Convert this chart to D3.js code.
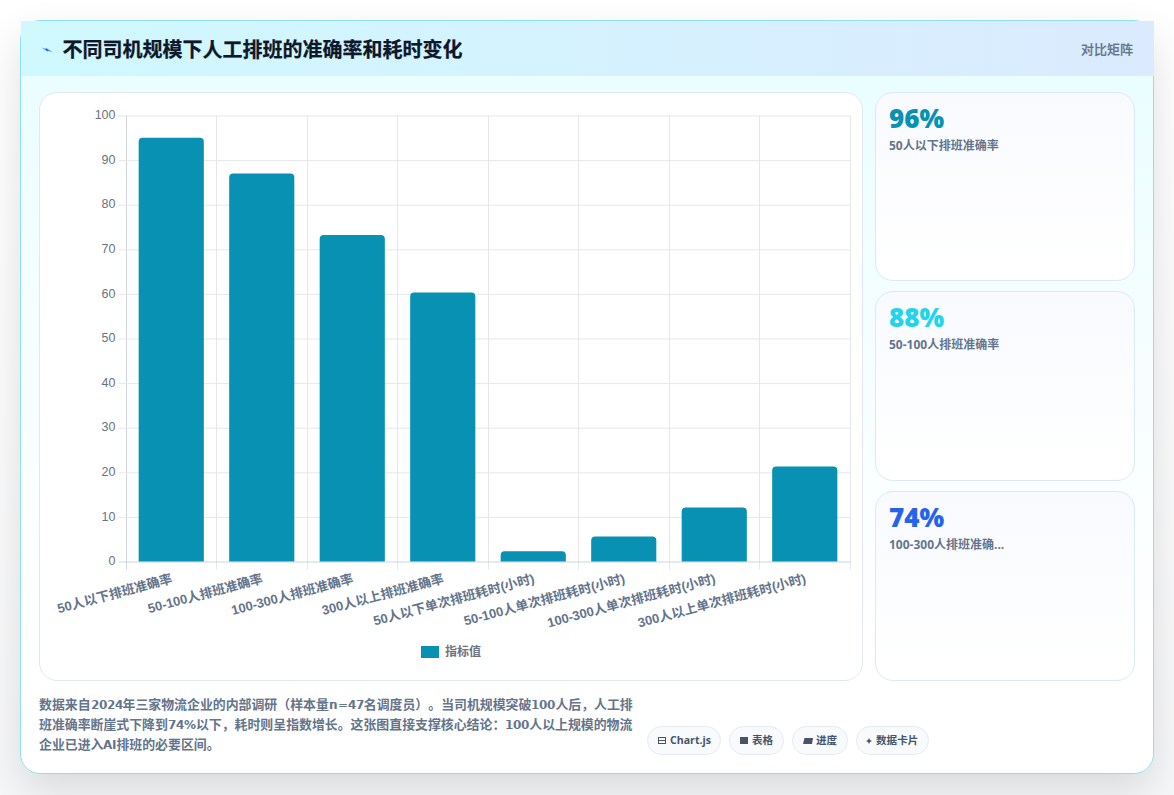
<!DOCTYPE html>
<html lang="zh-CN">
<head>
<meta charset="utf-8">
<title>不同司机规模下人工排班的准确率和耗时变化</title>
<script src="https://cdn.jsdelivr.net/npm/d3@7/dist/d3.min.js"></script>
<style>
  /* Latin digits in the footnote run a little smaller than the CJK text beside them */
  @font-face {
    font-family: "NoteLatin"; font-weight: 700;
    src: local("DejaVu Sans Bold"); size-adjust: 90%;
  }
  * { box-sizing: border-box; text-spacing-trim: space-all; }
  html, body { margin: 0; padding: 0; }
  body {
    width: 1174px; height: 795px; overflow: hidden; position: relative;
    background: linear-gradient(#ffffff 0, #fbfbfc 400px, #f6f7f8 100%);
    font-family: "Liberation Sans", "Noto Sans CJK SC", sans-serif;
  }
  .sheet {
    position: absolute; left: 20px; top: 20px; width: 1134px; height: 754px;
    border: 1px solid #8fe0ef; border-radius: 20px;
    background: linear-gradient(180deg, #e8fdff 0, #f6feff 45%, #ffffff 85%);
    box-shadow: 0 16px 40px rgba(0, 0, 0, .12);
  }
  .head {
    position: absolute; left: 0; top: 0; width: 1133px; height: 55px;
    background: linear-gradient(90deg, #cff9fe 0, #dbeafe 100%);
  }
  .bolt { position: absolute; left: 20px; top: 24px; }
  .head h1 {
    position: absolute; left: 41.5px; top: 13px; margin: 0;
    font: 700 20px/29px "Noto Sans CJK SC", sans-serif; color: #0f172a;
    -webkit-text-stroke: .25px #0f172a;
  }
  .head .mode {
    position: absolute; right: 21px; top: 18px;
    font: 500 13px/19px "Noto Sans CJK SC", sans-serif; color: #64748b;
    -webkit-text-stroke: .2px #64748b;
  }
  .panel {
    position: absolute; left: 18px; top: 71px; width: 824px; height: 589px;
    background: #fff; border: 1px solid #e2e8f0; border-radius: 18px;
  }
  svg.chart { position: absolute; left: 0; top: 0; }
  .stat {
    position: absolute; left: 854px; width: 260px;
    border: 1px solid #dbe9f4; border-radius: 18px;
    background: linear-gradient(180deg, #f8fafe 0, #ffffff 100%);
  }
  .stat b {
    position: absolute; left: 13px; top: 7px;
    font: 800 26px/36px "Open Sans", sans-serif;
  }
  .stat span {
    position: absolute; left: 13px; top: 44px; white-space: nowrap;
    font: 700 12px/17px "Open Sans", "Noto Sans CJK SC", sans-serif; color: #64748b;
  }
  .note {
    position: absolute; left: 18px; top: 674px; width: 620px; margin: 0;
    font: 700 12.9px/20px "NoteLatin", "Noto Sans CJK SC", sans-serif; color: #64748b;
  }
  .chip {
    position: absolute; top: 705px; height: 29px; border: 1px solid #e5eaf2; border-radius: 15px;
    background: #f8fafc; color: #475569; white-space: nowrap;
    font: 700 10.6px/27px "Open Sans", "Noto Sans CJK SC", sans-serif;
  }
  .chip svg { position: absolute; top: 9px; }
  .chip em { position: absolute; top: 0; font-style: normal; }
</style>
</head>
<body>
<div class="sheet">
  <div class="head">
    <svg class="bolt" width="12" height="10" viewBox="0 0 12 10">
      <path d="M0.5 2.5 L5 4.2 L4.6 2.8 L11.5 7.2 L6.6 5.4 L7 6.8 Z" fill="#2563eb"/>
    </svg>
    <h1 id="title"></h1>
    <div class="mode" id="mode"></div>
  </div>
  <div class="panel"></div>
  <div id="stats"></div>
  <p class="note" id="note"></p>
  <div id="chips"></div>
</div>
<svg class="chart" id="chart" width="1174" height="795"></svg>

<script>
// Chart content
const titleText = "不同司机规模下人工排班的准确率和耗时变化";
const modeText = "对比矩阵";
const categories = [
  "50人以下排班准确率", "50-100人排班准确率", "100-300人排班准确率", "300人以上排班准确率",
  "50人以下单次排班耗时(小时)", "50-100人单次排班耗时(小时)", "100-300人单次排班耗时(小时)", "300人以上单次排班耗时(小时)"
];
const indicatorValues = [95, 87, 73.2, 60.3, 2.3, 5.6, 12.1, 21.3];
const seriesName = "指标值";
const yTicks = [0, 10, 20, 30, 40, 50, 60, 70, 80, 90, 100];

const statValues = ["96%", "88%", "74%"];
const statLabels = ["50人以下排班准确率", "50-100人排班准确率", "100-300人排班准确..."];
const statColors = ["#0891b2", "#22d3ee", "#2563eb"];
const statTops = [71, 270, 470];
const statHeights = [189, 190, 190];

const noteLines = [
  "数据来自2024年三家物流企业的内部调研（样本量n=47名调度员）。当司机规模突破100人后，人工排",
  "班准确率断崖式下降到74%以下，耗时则呈指数增长。这张图直接支撑核心结论：100人以上规模的物流",
  "企业已进入AI排班的必要区间。"
];
const chipLabels = ["Chart.js", "表格", "进度", "数据卡片"];
const chipLefts = [626, 708, 771, 835];
const chipWidths = [74, 55, 56, 73];

// Page furniture
d3.select("#title").text(titleText);
d3.select("#mode").text(modeText);

d3.select("#stats").selectAll(".stat").data(statValues).join("div")
  .attr("class", "stat")
  .style("top", (d, i) => statTops[i] + "px")
  .style("height", (d, i) => statHeights[i] + "px")
  .each(function (d, i) {
    const card = d3.select(this);
    card.append("b").text(d).style("color", statColors[i]);
    card.append("span").text(statLabels[i]);
  });

d3.select("#note").selectAll("div").data(noteLines).join("div")
  .style("white-space", "nowrap").text(d => d);

// Small glyphs in front of each chip label
const chipGlyphs = [
  '<rect x="0.5" y="1.5" width="7" height="6" fill="none" stroke="#475569"/><path d="M0.5 4.5H7.5" stroke="#475569"/>',
  '<rect x="0" y="1" width="8" height="7" fill="#475569"/>',
  '<path d="M1.5 2H10L9 8H0Z" fill="#475569"/>',
  '<path d="M3 2L4 4L6 5L4 6L3 8L2 6L0 5L2 4Z" fill="#475569"/>'
];
const chipTextLeft = [22, 22, 23, 19];
d3.select("#chips").selectAll(".chip").data(chipLabels).join("div")
  .attr("class", "chip")
  .style("left", (d, i) => chipLefts[i] + "px")
  .style("width", (d, i) => chipWidths[i] + "px")
  .each(function (d, i) {
    const chip = d3.select(this);
    chip.append("svg").attr("width", 11).attr("height", 10)
      .style("left", (i === 3 ? 9 : 10) + "px").html(chipGlyphs[i]);
    chip.append("em").style("left", chipTextLeft[i] + "px").text(d);
  });

// Bar chart
const plot = { left: 126, right: 850, top: 115.5, bottom: 561.5 };
const svg = d3.select("#chart");
const x = d3.scaleBand().domain(categories).range([plot.left, plot.right]).paddingInner(0).paddingOuter(0);
const y = d3.scaleLinear().domain([0, 100]).range([plot.bottom, plot.top]);
const barWidth = x.bandwidth() * 0.72;

const gridColor = "#e5e7eb";
const labelColor = "#6b7280";

// Vertical grid lines sit on the band edges and drop slightly below the axis
const edges = categories.map(c => x(c)).concat(plot.right);
svg.append("g").selectAll("line").data(edges).join("line")
  .attr("x1", d => Math.floor(d) + 0.5).attr("x2", d => Math.floor(d) + 0.5)
  .attr("y1", plot.top).attr("y2", plot.bottom + 8)
  .attr("stroke", (d, i) => i === 0 ? "#d1d5db" : gridColor);

// Horizontal grid lines with their tick marks and labels
const yAxis = d3.axisLeft(y).tickValues(yTicks).tickSize(8).tickPadding(3);
const yG = svg.append("g").attr("transform", `translate(${plot.left + 0.5},0)`).call(yAxis);
yG.select(".domain").remove();
yG.selectAll(".tick line").attr("stroke", "#e5e7eb").attr("x2", plot.right - plot.left);
yG.selectAll(".tick line").attr("x1", -8);
yG.selectAll(".tick").filter(d => d === 0).select("line").attr("stroke", "#cbd5e1");
yG.selectAll("text")
  .attr("fill", labelColor)
  .attr("dy", "0.26em")
  .style("font", '12.5px "Liberation Sans", sans-serif');

// Bars with softly rounded top corners
const barPath = d => {
  const left = x(d.name) + (x.bandwidth() - barWidth) / 2;
  const top = y(d.value);
  const r = Math.min(4, plot.bottom - top);
  return `M${left},${plot.bottom}V${top + r}Q${left},${top} ${left + r},${top}` +
         `H${left + barWidth - r}Q${left + barWidth},${top} ${left + barWidth},${top + r}V${plot.bottom}Z`;
};
svg.append("g").selectAll("path")
  .data(categories.map((name, i) => ({ name, value: indicatorValues[i] })))
  .join("path")
  .attr("d", barPath)
  .attr("fill", "#0891b2");

// Slanted category labels, right-aligned under each band
svg.append("g").selectAll("text").data(categories).join("text")
  .attr("transform", c => `translate(${x(c) + x.bandwidth() / 2 - 0.5},${plot.bottom + 12}) rotate(-15)`)
  .attr("text-anchor", "end")
  .attr("dy", "0.72em")
  .attr("fill", "#64748b")
  .style("font", '700 13px "Liberation Sans", "Noto Sans CJK SC", sans-serif')
  .text(c => c);

// Legend
const legend = svg.append("g").attr("transform", "translate(421,646)");
legend.append("rect").attr("width", 18).attr("height", 12).attr("fill", "#0891b2");
legend.append("text").attr("x", 24).attr("y", 10).attr("fill", "#6b7280")
  .style("font", '700 12px "Noto Sans CJK SC", sans-serif').text(seriesName);
</script>
</body>
</html>
